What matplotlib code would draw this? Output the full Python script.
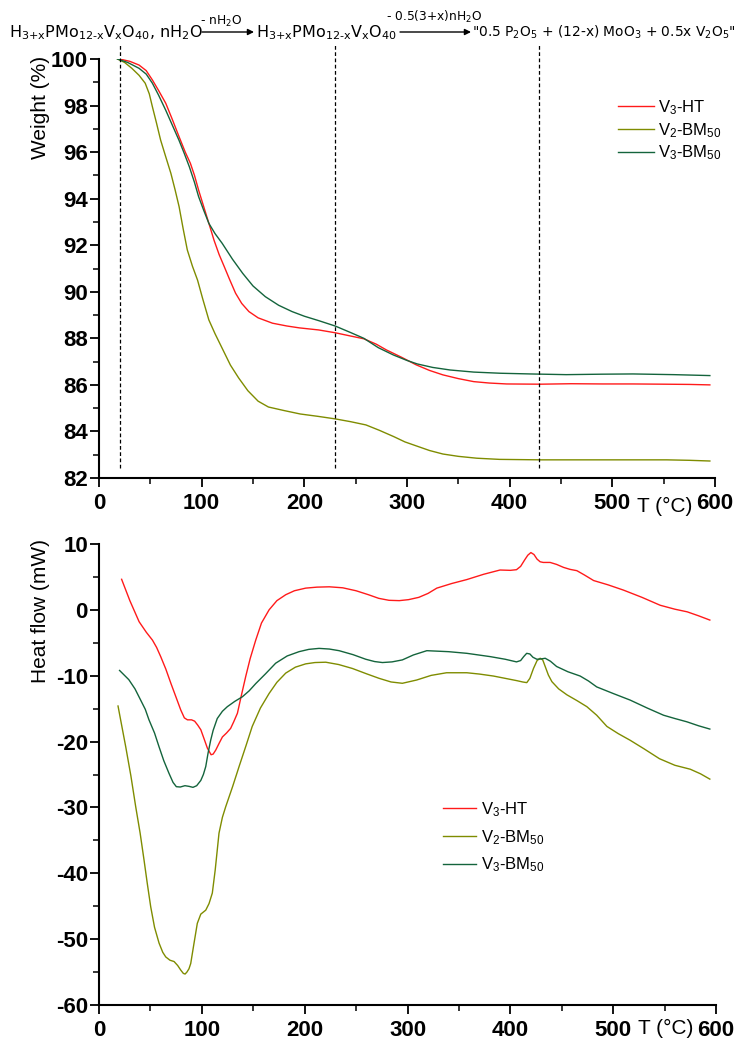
import matplotlib
matplotlib.use('Agg')
import matplotlib.pyplot as plt
from matplotlib.ticker import MultipleLocator

plt.rcParams['font.family'] = ['Liberation Sans', 'DejaVu Sans']
plt.rcParams['mathtext.fontset'] = 'custom'
plt.rcParams['mathtext.default'] = 'regular'
plt.rcParams['axes.unicode_minus'] = False

# ---- TGA: weight loss (%) vs temperature (C) ----
tga_t_ht = [20, 30, 39, 46, 52, 58, 65, 71, 78, 84, 89, 93, 97, 101, 104, 108, 112, 117, 122,
            127, 133, 139, 146, 155, 169, 183, 195, 214, 230, 245, 258, 270, 280, 295, 309, 322,
            335, 350, 365, 380, 397, 430, 460, 490, 520, 550, 575, 595]
tga_w_ht = [100.0, 99.9, 99.74, 99.5, 99.1, 98.65, 98.1, 97.45, 96.66, 96.0, 95.52, 95.0, 94.37,
            93.8, 93.37, 92.8, 92.22, 91.6, 91.08, 90.55, 89.94, 89.5, 89.15, 88.88, 88.65, 88.53,
            88.45, 88.36, 88.24, 88.1, 87.98, 87.75, 87.5, 87.18, 86.86, 86.62, 86.43, 86.27,
            86.14, 86.08, 86.04, 86.03, 86.05, 86.04, 86.04, 86.03, 86.02, 86.0]

tga_t_v2 = [18, 25, 32, 39, 45, 49, 52, 56, 60, 65, 70, 74, 78, 82, 86, 91, 96, 101, 107, 113,
            120, 128, 136, 145, 155, 165, 180, 196, 213, 230, 245, 260, 273, 287, 298, 309, 322,
            335, 350, 368, 390, 430, 460, 490, 520, 553, 575, 595]
tga_w_v2 = [100.0, 99.85, 99.6, 99.3, 98.96, 98.5, 97.95, 97.25, 96.52, 95.8, 95.09, 94.4,
            93.66, 92.7, 91.8, 91.1, 90.5, 89.7, 88.79, 88.2, 87.57, 86.85, 86.3, 85.75, 85.3,
            85.05, 84.9, 84.75, 84.65, 84.54, 84.42, 84.28, 84.05, 83.78, 83.55, 83.38, 83.18,
            83.03, 82.93, 82.85, 82.8, 82.78, 82.78, 82.78, 82.78, 82.78, 82.76, 82.73]

tga_t_v3 = [18, 28, 39, 46, 52, 58, 65, 71, 78, 83, 88, 93, 97, 102, 107, 113, 120, 130, 140,
            150, 162, 175, 188, 200, 214, 230, 245, 258, 272, 287, 300, 310, 325, 342, 365, 391,
            420, 455, 490, 520, 560, 595]
tga_w_v3 = [100.0, 99.85, 99.6, 99.35, 98.96, 98.45, 97.8, 97.2, 96.5, 95.95, 95.37, 94.7,
            94.09, 93.5, 92.94, 92.5, 92.08, 91.4, 90.79, 90.25, 89.79, 89.42, 89.15, 88.95,
            88.76, 88.53, 88.25, 88.0, 87.6, 87.28, 87.05, 86.9, 86.75, 86.64, 86.55, 86.5,
            86.47, 86.44, 86.46, 86.47, 86.44, 86.4]

# decomposition steps (C)
steps = [20, 230, 429]

# ---- DSC: heat flow (mW) vs temperature (C) ----
dsc_t_ht = [22, 30, 39, 46, 52, 56, 60, 65, 70, 75, 79.5, 83, 86, 90, 93, 96, 99, 102, 105.4,
            109, 111, 113.5, 117, 120, 124, 128, 131, 134.6, 138, 142.7, 147, 152.4, 158, 165.4,
            173, 181.6, 190, 201, 212, 224, 237, 250, 262, 272, 282, 292, 301, 311, 320, 328.5,
            343, 357.7, 374, 390, 400, 406, 410, 414, 417, 420, 423, 426, 429, 432, 438.7, 445,
            451.7, 458, 464.7, 472, 481, 495, 510, 528, 545.7, 560, 572, 583, 594]
dsc_h_ht = [4.64, 1.4, -1.8, -3.4, -4.6, -5.7, -7.1, -9.0, -11.2, -13.3, -15.2, -16.4, -16.7,
            -16.7, -16.9, -17.5, -18.2, -19.5, -21.0, -22.0, -21.9, -21.3, -20.2, -19.3, -18.7,
            -18.0, -17.0, -15.7, -13.3, -10.1, -7.4, -4.6, -2.0, 0.0, 1.4, 2.3, 2.9, 3.3, 3.45,
            3.5, 3.35, 2.9, 2.3, 1.75, 1.45, 1.4, 1.55, 1.9, 2.5, 3.3, 4.0, 4.6, 5.4, 6.05, 6.0,
            6.1, 6.6, 7.6, 8.3, 8.7, 8.4, 7.7, 7.3, 7.2, 7.2, 6.9, 6.45, 6.15, 5.95, 5.3, 4.45,
            3.8, 3.0, 1.9, 0.7, 0.1, -0.3, -0.9, -1.55]

dsc_t_v2 = [18.5, 22, 26, 31, 35.7, 40, 43.8, 47, 50.3, 54, 58.4, 62, 64.9, 69, 73, 76.5, 79.5,
            82, 83.7, 85.5, 87.5, 89.2, 92, 95.6, 99, 103.8, 107, 110.2, 113, 116.7, 120, 123.2,
            130, 136.2, 143, 149, 157, 165.4, 173, 181.6, 191, 201, 210, 220.5, 233, 246.4, 260,
            272.4, 284, 295, 309, 323, 338, 357.7, 370, 383.6, 395, 406.3, 412, 416, 419, 422.5,
            426, 429, 431.5, 433.9, 437, 440.4, 447, 455, 465, 474.4, 484, 493.9, 505, 516.5, 530,
            545, 560, 575, 585, 594]
dsc_h_v2 = [-14.6, -17.5, -20.8, -25.2, -29.9, -33.9, -38.0, -41.6, -45.1, -48.2, -50.6, -52.0,
            -52.7, -53.2, -53.4, -54.0, -54.7, -55.2, -55.3, -55.0, -54.5, -53.7, -51.0, -47.6,
            -46.2, -45.6, -44.6, -43.0, -39.5, -33.9, -31.5, -29.9, -26.8, -23.8, -20.6, -17.7,
            -14.9, -12.7, -11.0, -9.6, -8.7, -8.2, -8.0, -7.95, -8.3, -8.9, -9.7, -10.4, -10.95,
            -11.15, -10.65, -9.95, -9.55, -9.55, -9.75, -10.05, -10.4, -10.75, -10.95, -11.05,
            -10.4, -8.9, -7.7, -7.35, -7.6, -8.6, -9.9, -10.9, -12.0, -12.9, -13.8, -14.7, -16.0,
            -17.7, -18.8, -19.8, -21.1, -22.6, -23.6, -24.2, -24.9, -25.7]

dsc_t_v3 = [20, 29, 35, 40.5, 45, 48.6, 54, 58.4, 63, 68, 72, 75.2, 79, 83.6, 87.5, 91.4, 95, 99,
            101.5, 103.8, 106, 108.6, 111, 115, 120, 124.8, 132, 139.4, 146, 152.4, 162, 171.8,
            183, 194.5, 204, 214, 224, 233.5, 247, 259.4, 268, 275.6, 285, 295, 305.7, 318.8, 340,
            357.7, 380.4, 395, 406, 410, 413, 415.9, 419, 422, 425.8, 430, 433.9, 439, 445, 456,
            467.9, 476, 484, 500, 516.5, 533, 549, 560, 571.7, 583, 594]
dsc_h_v3 = [-9.2, -10.6, -12.0, -13.7, -15.1, -16.7, -18.7, -20.8, -22.9, -24.8, -26.2, -26.85,
            -26.9, -26.7, -26.8, -26.95, -26.7, -25.9, -25.0, -23.8, -21.8, -19.8, -18.3, -16.5,
            -15.4, -14.7, -13.9, -13.2, -12.3, -11.2, -9.7, -8.1, -7.0, -6.35, -6.0, -5.85, -5.95,
            -6.2, -6.8, -7.5, -7.85, -8.0, -7.9, -7.6, -6.85, -6.2, -6.35, -6.6, -7.1, -7.5, -7.9,
            -7.7, -7.1, -6.6, -6.7, -7.2, -7.5, -7.45, -7.35, -7.8, -8.6, -9.4, -10.05, -10.8,
            -11.7, -12.7, -13.7, -14.9, -16.0, -16.5, -17.0, -17.6, -18.1]

labels = ['V$_3$-HT', 'V$_2$-BM$_{50}$', 'V$_3$-BM$_{50}$']
colors = ['#ff1a1a', '#7f8c00', '#14643c']

W, H = 737, 1039


def fx(x):
    return x / W


def fy(y):
    return 1 - y / H


fig = plt.figure(figsize=(W / 100, H / 100), dpi=100)
ax1 = fig.add_axes([fx(99), fy(478), 616 / W, 419 / H])
ax2 = fig.add_axes([fx(99), fy(1005), 617 / W, 461 / H])

# TGA curves
ax1.plot(tga_t_ht, tga_w_ht, color=colors[0], lw=1, label=labels[0])
ax1.plot(tga_t_v2, tga_w_v2, color=colors[1], lw=1, label=labels[1])
ax1.plot(tga_t_v3, tga_w_v3, color=colors[2], lw=1, label=labels[2])
ax1.vlines(steps, 82.45, 100.6, colors='k', linestyles=(0, (3, 2)), lw=0.9, clip_on=False)
ax1.set_xlim(0, 600)
ax1.set_ylim(82, 100)
ax1.yaxis.set_major_locator(MultipleLocator(2))
ax1.yaxis.set_minor_locator(MultipleLocator(1))

# DSC curves
ax2.plot(dsc_t_ht, dsc_h_ht, color=colors[0], lw=1, label=labels[0])
ax2.plot(dsc_t_v2, dsc_h_v2, color=colors[1], lw=1, label=labels[1])
ax2.plot(dsc_t_v3, dsc_h_v3, color=colors[2], lw=1, label=labels[2])
ax2.set_xlim(0, 600)
ax2.set_ylim(-60, 10)
ax2.yaxis.set_major_locator(MultipleLocator(10))
ax2.yaxis.set_minor_locator(MultipleLocator(5))

for ax in (ax1, ax2):
    ax.spines['top'].set_visible(False)
    ax.spines['right'].set_visible(False)
    ax.spines['left'].set_linewidth(1.5)
    ax.spines['bottom'].set_linewidth(1.5)
    ax.xaxis.set_major_locator(MultipleLocator(100))
    ax.xaxis.set_minor_locator(MultipleLocator(50))
    ax.tick_params(which='major', direction='out', length=6.5, width=1.3, labelsize=16)
    ax.tick_params(which='minor', direction='out', length=4, width=1.1)
    ax.tick_params(axis='x', pad=4)
    ax.tick_params(axis='y', pad=1.5)
    plt.setp(ax.get_xticklabels() + ax.get_yticklabels(), fontweight='bold')

ax1.legend(frameon=False, loc='upper left', bbox_to_anchor=(fx(618), fy(98)),
           bbox_transform=fig.transFigure, borderpad=0, borderaxespad=0,
           handlelength=2.15, handletextpad=0.25, labelspacing=0.25, fontsize=12)
ax2.legend(frameon=False, loc='upper left', bbox_to_anchor=(fx(443), fy(800)),
           bbox_transform=fig.transFigure, borderpad=0, borderaxespad=0,
           handlelength=2.0, handletextpad=0.25, labelspacing=0.55, fontsize=12)

# axis labels
fig.text(fx(41), fy(107), 'Weight (%)', rotation=90, ha='center', va='center', fontsize=15)
fig.text(fx(41), fy(611), 'Heat flow (mW)', rotation=90, ha='center', va='center', fontsize=15)
fig.text(fx(665), fy(506), 'T (°C)', ha='center', va='center', fontsize=15)
fig.text(fx(666), fy(1028), 'T (°C)', ha='center', va='center', fontsize=15)

# decomposition scheme above the TGA panel
eq = dict(family='DejaVu Sans', fontsize=11.5, va='baseline', ha='left')
fig.text(fx(9), fy(37), r'H$_{\text{3+x}}$PMo$_{\text{12-x}}$V$_{\text{x}}$O$_{\text{40}}$, nH$_2$O', **eq)
fig.text(fx(256), fy(37), r'H$_{\text{3+x}}$PMo$_{\text{12-x}}$V$_{\text{x}}$O$_{\text{40}}$', **eq)
fig.text(fx(736), fy(37), r'"0.5 P$_2$O$_5$ + (12-x) MoO$_3$ + 0.5x V$_2$O$_5$"',
         family='DejaVu Sans', fontsize=9.9, va='baseline', ha='right')
small = dict(family='DejaVu Sans', fontsize=8.8, va='baseline', ha='left')
fig.text(fx(200), fy(25), r'- nH$_2$O', **small)
fig.text(fx(386), fy(21), r'- 0.5(3+x)nH$_2$O', **small)
arrow = dict(arrowstyle='-|>', color='k', lw=1, mutation_scale=9, shrinkA=0, shrinkB=0)
fig.add_artist(matplotlib.patches.FancyArrowPatch((fx(202), fy(32)), (fx(254), fy(32)),
                                                  transform=fig.transFigure, **arrow))
fig.add_artist(matplotlib.patches.FancyArrowPatch((fx(400), fy(32)), (fx(471), fy(32)),
                                                  transform=fig.transFigure, **arrow))

fig.savefig('out.png', dpi=100)
